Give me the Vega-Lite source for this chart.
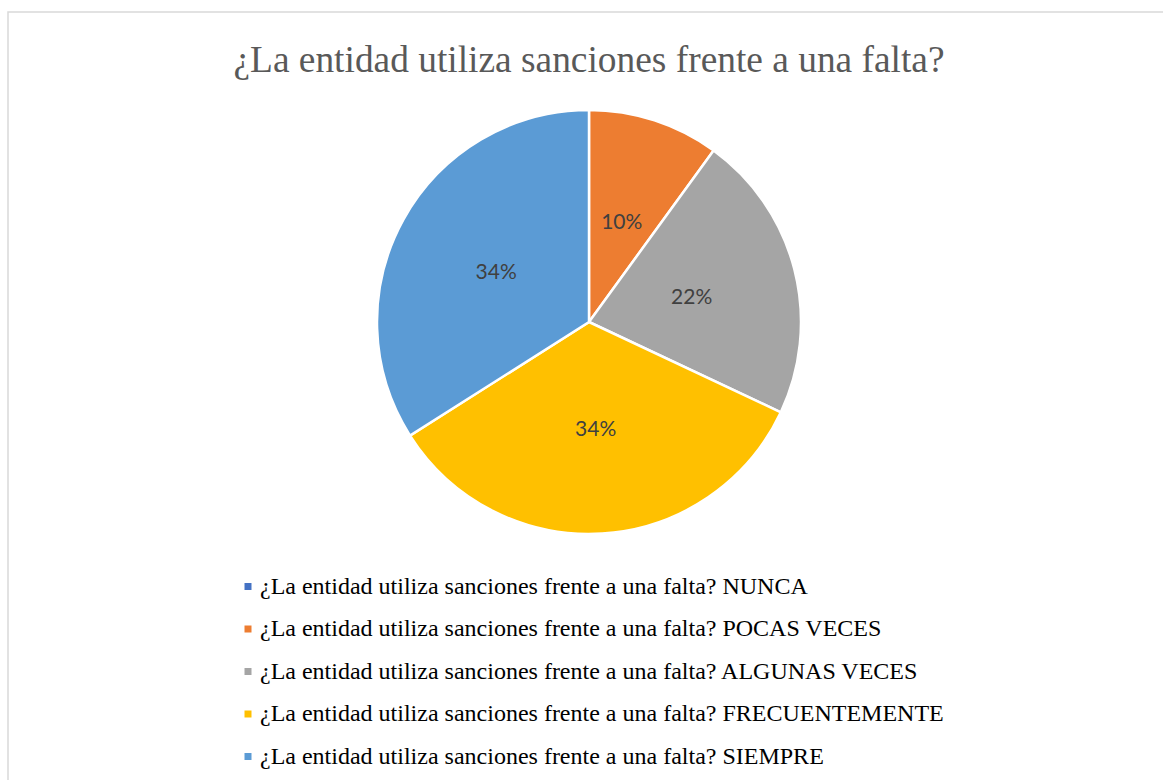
{
  "$schema": "https://vega.github.io/schema/vega-lite/v6.json",
  "width": 1162,
  "height": 800,
  "autosize": {"type": "none"},
  "padding": {"left": 8, "top": 12, "right": -7, "bottom": -32},
  "background": "white",
  "view": {"stroke": "#d9d9d9", "strokeWidth": 1.5, "fill": "white"},
  "title": {
    "text": "¿La entidad utiliza sanciones frente a una falta?",
    "font": "Liberation Serif",
    "fontSize": 37.4,
    "fontWeight": "normal",
    "color": "#595959",
    "anchor": "middle",
    "frame": "group",
    "baseline": "alphabetic",
    "offset": -97
  },
  "data": {
    "values": [
      {"respuesta": "¿La entidad utiliza sanciones frente a una falta? NUNCA", "orden": 1, "valor": 0.0},
      {"respuesta": "¿La entidad utiliza sanciones frente a una falta? POCAS VECES", "orden": 2, "valor": 0.10},
      {"respuesta": "¿La entidad utiliza sanciones frente a una falta? ALGUNAS VECES", "orden": 3, "valor": 0.22},
      {"respuesta": "¿La entidad utiliza sanciones frente a una falta? FRECUENTEMENTE", "orden": 4, "valor": 0.34},
      {"respuesta": "¿La entidad utiliza sanciones frente a una falta? SIEMPRE", "orden": 5, "valor": 0.34}
    ]
  },
  "encoding": {
    "theta": {"field": "valor", "type": "quantitative", "stack": true},
    "order": {"field": "orden", "type": "quantitative", "sort": "ascending"},
    "color": {
      "field": "respuesta",
      "type": "nominal",
      "scale": {
        "domain": [
          "¿La entidad utiliza sanciones frente a una falta? NUNCA",
          "¿La entidad utiliza sanciones frente a una falta? POCAS VECES",
          "¿La entidad utiliza sanciones frente a una falta? ALGUNAS VECES",
          "¿La entidad utiliza sanciones frente a una falta? FRECUENTEMENTE",
          "¿La entidad utiliza sanciones frente a una falta? SIEMPRE"
        ],
        "range": ["#4472C4", "#ED7D31", "#A5A5A5", "#FFC000", "#5B9BD5"]
      },
      "legend": {
        "title": null,
        "orient": "none",
        "legendX": 228,
        "legendY": 562.5,
        "direction": "vertical",
        "padding": 0,
        "symbolType": "square",
        "symbolSize": 49,
        "symbolStrokeWidth": 0,
        "labelFont": "Liberation Serif",
        "labelFontSize": 24,
        "labelColor": "#000000",
        "labelLimit": 0,
        "labelOffset": 0,
        "rowPadding": 18.5
      }
    }
  },
  "layer": [
    {
      "mark": {"type": "arc", "radius": 212, "yOffset": -90, "stroke": "white", "strokeWidth": 2.5}
    },
    {
      "transform": [{"filter": "datum.valor > 0"}],
      "mark": {"type": "text", "radius": 106, "yOffset": -88, "font": "Lato", "fontSize": 21},
      "encoding": {
        "text": {"field": "valor", "type": "quantitative", "format": ".0%"},
        "color": {"value": "#404040"}
      }
    }
  ]
}
